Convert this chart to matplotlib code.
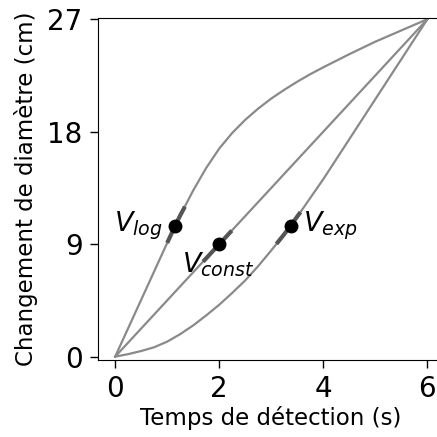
import matplotlib
matplotlib.use("Agg")
import matplotlib.pyplot as plt

# Data
const_t = [0, 6]
const_d = [0, 27]
log_t = [0, 0.5, 1.0, 1.15, 1.25, 1.5, 1.75, 2.0, 2.25, 2.5, 2.75, 3.0, 3.25, 3.5,
         3.75, 4.0, 4.5, 5.0, 5.5, 6.0]
log_d = [0, 4.55, 9.1, 10.45, 11.3, 13.3, 15.1, 16.65, 17.9, 18.95, 19.85, 20.65,
         21.35, 22.0, 22.6, 23.15, 24.2, 25.2, 26.1, 27]
exp_t = [0, 0.25, 0.5, 0.75, 1.0, 1.25, 1.5, 1.75, 2.0, 2.25, 2.5, 2.75, 3.0, 3.25,
         3.5, 3.75, 4.0, 6.0]
exp_d = [0, 0.2, 0.45, 0.75, 1.2, 1.8, 2.5, 3.3, 4.15, 5.1, 6.1, 7.25, 8.5, 9.8,
         11.2, 12.7, 14.2, 27]

# highlighted points and segments
pt_t = [1.15, 2.0, 3.37]
pt_d = [10.45, 9.0, 10.47]
seg_log_t = [1.0, 1.15, 1.25, 1.34]
seg_log_d = [9.1, 10.45, 11.3, 12.0]
seg_const_t = [1.69, 2.24]
seg_const_d = [7.6, 10.08]
seg_exp_t = [3.10, 3.25, 3.37, 3.56]
seg_exp_d = [9.02, 9.8, 10.47, 11.56]

labels = [r"$V_{log}$", r"$V_{const}$", r"$V_{exp}$"]
label_pos = [(0.92, 10.0), (1.28, 6.7), (3.61, 10.0)]
label_ha = ["right", "left", "left"]

xticks = [0, 2, 4, 6]
yticks = [0, 9, 18, 27]

fig = plt.figure(figsize=(4.37, 4.37), dpi=100)
ax = fig.add_axes([98/437, 77/437, 345/437, 341.7/437])

curve_col = "#8a8a8a"
seg_col = "#555555"
for t, d in [(log_t, log_d), (const_t, const_d), (exp_t, exp_d)]:
    ax.plot(t, d, color=curve_col, lw=1.6, solid_joinstyle="round")
for t, d in [(seg_log_t, seg_log_d), (seg_const_t, seg_const_d), (seg_exp_t, seg_exp_d)]:
    ax.plot(t, d, color=seg_col, lw=3.0, solid_capstyle="butt")
ax.plot(pt_t, pt_d, "o", color="black", ms=9, ls="none")

for lab, (x, y), ha in zip(labels, label_pos, label_ha):
    ax.text(x, y, lab, ha=ha, va="baseline", fontsize=19.5)

ax.spines["right"].set_visible(False)
ax.set_xlim(-0.33, 6.3)
ax.set_ylim(-0.27, 27.07)
ax.set_xticks(xticks)
ax.set_yticks(yticks)
ax.tick_params(labelsize=20, length=6, width=1, pad=5)
ax.set_xlabel("Temps de détection (s)", fontsize=16.5, labelpad=2)
ax.set_ylabel("Changement de diamètre (cm)", fontsize=16.5, labelpad=7)

fig.savefig("out.png", dpi=100)
